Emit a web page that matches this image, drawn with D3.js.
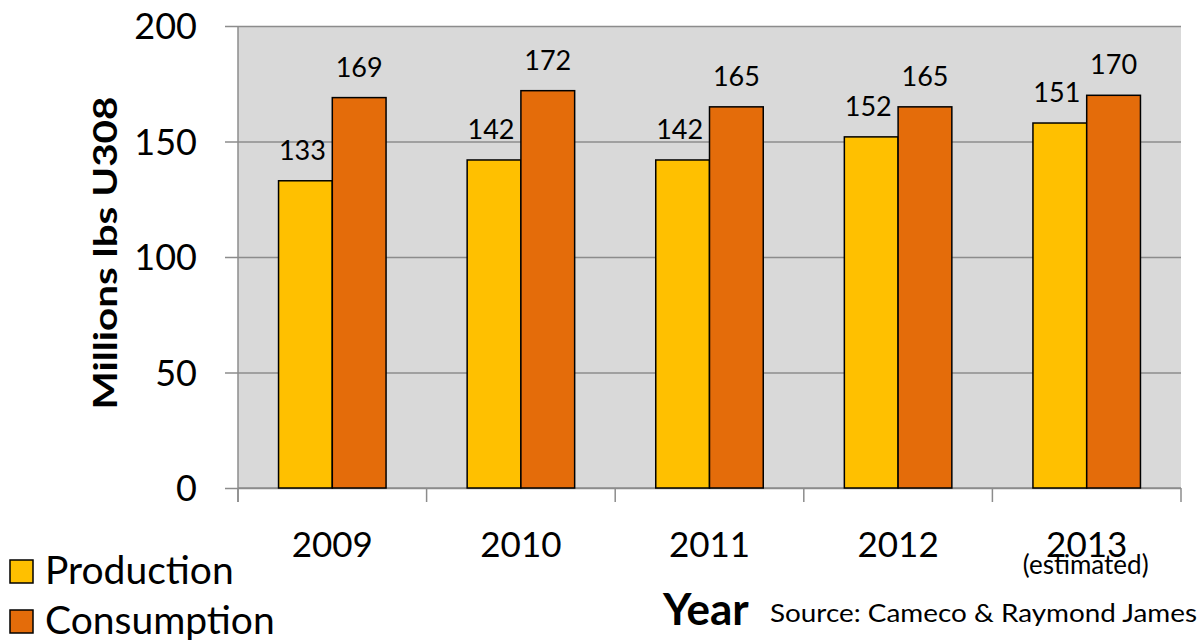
<!DOCTYPE html>
<html><head><meta charset="utf-8">
<script src="https://cdn.jsdelivr.net/npm/d3@7"></script>
<style>
html,body{margin:0;padding:0;background:#fff;}
svg text{font-family:Lato,"Open Sans",sans-serif;fill:#000;}
</style></head>
<body><svg id="c" width="1204" height="640"></svg>
<script>
const years = ["2009","2010","2011","2012","2013"];
const production = [133,142,142,152,158];
const consumption = [169,172,165,165,170];
const productionLabels = ["133","142","142","152","151"];
const consumptionLabels = ["169","172","165","165","170"];
const yTicks = [0,50,100,150,200];
const seriesNames = ["Production","Consumption"];
const seriesColors = ["#FFC000","#E46C0A"];

const svg = d3.select("#c");
const L = 238, R = 1181, T = 26, B = 488;
const x = d3.scaleBand().domain(years).range([L,R]).paddingInner(0.43).paddingOuter(0.215);
const xg = d3.scaleBand().domain(years).range([L,R]);
const y = d3.scaleLinear().domain([0,200]).range([B,T]);

svg.append("rect").attr("x",L).attr("y",T).attr("width",R-L).attr("height",B-T).attr("fill","#d9d9d9");

// gridlines + y ticks
const yAxis = d3.axisLeft(y).tickValues(yTicks).tickSize(-(R-L)).tickSizeOuter(0).tickPadding(41);
const ga = svg.append("g").attr("transform",`translate(${L},0)`).call(yAxis);
ga.select(".domain").remove();
ga.selectAll(".tick line").attr("stroke","#8c8c8c").attr("stroke-width",1.5).attr("x1",-13);
ga.selectAll(".tick text").style("font-size","36px").attr("dy","0.36em");
svg.append("line").attr("x1",L).attr("x2",L).attr("y1",T).attr("y2",B+14).attr("stroke","#8c8c8c").attr("stroke-width",1.5);

// x axis ticks
const xa = svg.append("g");
xa.append("line").attr("x1",L).attr("x2",R).attr("y1",B).attr("y2",B).attr("stroke","#8c8c8c").attr("stroke-width",1.5);
const edges = years.map(d=>xg(d)).concat([R]);
xa.selectAll("line.t").data(edges).enter().append("line").attr("class","t")
  .attr("x1",d=>d).attr("x2",d=>d).attr("y1",B).attr("y2",B+14).attr("stroke","#8c8c8c").attr("stroke-width",1.5);
xa.selectAll("text").data(years).enter().append("text")
  .attr("x",d=>xg(d)+xg.bandwidth()/2).attr("y",557).attr("text-anchor","middle")
  .style("font-size","35px").text(d=>d);
svg.append("text").attr("x",xg("2013")+xg.bandwidth()/2-1).attr("y",574).attr("text-anchor","middle")
  .style("font-size","26px").text("(estimated)");

// bars
const sub = d3.scaleBand().domain([0,1]).range([0,x.bandwidth()]);
const data = [production, consumption];
const labels = [productionLabels, consumptionLabels];
data.forEach((vals,si)=>{
  const g = svg.append("g");
  g.selectAll("rect").data(vals).enter().append("rect")
    .attr("x",(d,i)=>x(years[i])+sub(si)).attr("y",d=>y(d))
    .attr("width",sub.bandwidth()).attr("height",d=>B-y(d))
    .attr("fill",seriesColors[si]).attr("stroke","#000").attr("stroke-width",1.5);
  g.selectAll("text").data(vals).enter().append("text")
    .attr("x",(d,i)=>x(years[i])+sub(si)+sub.bandwidth()/2 - (si===0?3:0))
    .attr("y",d=>y(d)-21).attr("text-anchor","middle")
    .style("font-size","27px").text((d,i)=>labels[si][i]);
});

// y title
svg.append("text").attr("transform","translate(117,253) rotate(-90)").attr("text-anchor","middle")
  .style("font-size","32px").style("font-weight","bold")
  .attr("textLength",313).attr("lengthAdjust","spacingAndGlyphs").text("Millions lbs U308");

// x title and source
svg.append("text").attr("x",663).attr("y",625).style("font-size","44px").style("font-weight","bold").text("Year");
svg.append("text").attr("x",770).attr("y",622).style("font-size","25px")
  .attr("textLength",427).attr("lengthAdjust","spacingAndGlyphs").text("Source: Cameco & Raymond  James");

// legend
const lg = svg.append("g");
seriesNames.forEach((n,i)=>{
  const yy = 560 + i*50;
  lg.append("rect").attr("x",10).attr("y",yy).attr("width",23).attr("height",23)
    .attr("fill",seriesColors[i]).attr("stroke","#000").attr("stroke-width",1.5);
  lg.append("text").attr("x",45).attr("y",yy+24).style("font-size","39px").text(n);
});
</script></body></html>
